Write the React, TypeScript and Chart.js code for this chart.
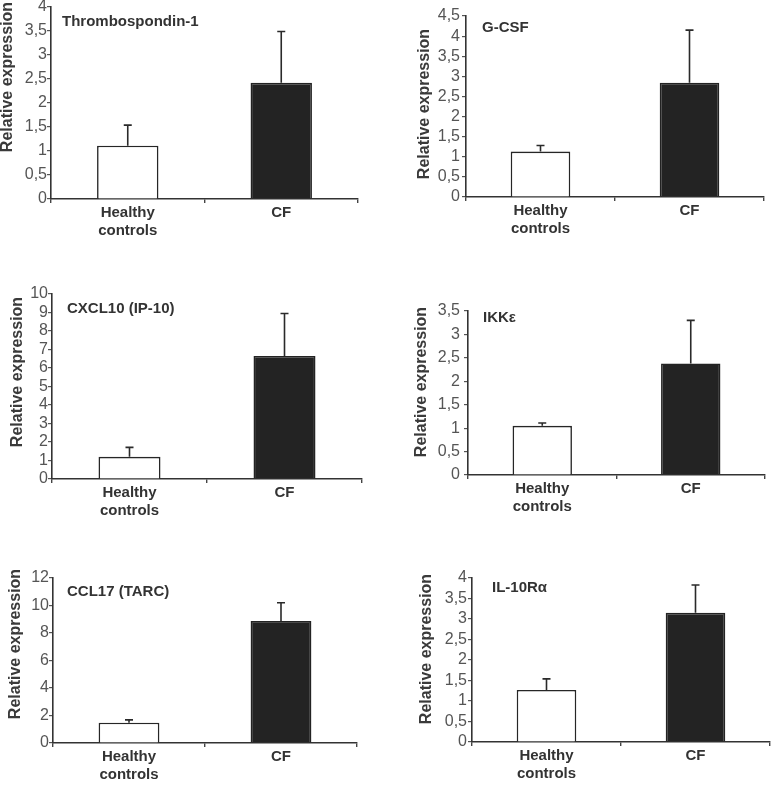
import React, { useEffect, useRef } from "react";
import { Chart, registerables } from "chart.js";

Chart.register(...registerables);

// ---- data ----
const categories = [["Healthy", "controls"], "CF"];
const panelTitles = ["Thrombospondin-1", "G-CSF", "CXCL10 (IP-10)", "IKKε", "CCL17 (TARC)", "IL-10Rα"];
const healthyMeans = [1.11, 1.13, 1.2, 1.05, 1.48, 1.27];
const healthyErrors = [0.43, 0.15, 0.51, 0.06, 0.2, 0.27];
const cfMeans = [2.42, 2.84, 6.65, 2.38, 8.87, 3.15];
const cfErrors = [1.07, 1.31, 2.3, 0.92, 1.33, 0.68];
const axisMax = [4, 4.5, 10, 3.5, 12, 4];
const axisStep = [0.5, 0.5, 1, 0.5, 2, 0.5];
const yAxisTitle = "Relative expression";

// ---- layout (page pixel positions of each plot area) ----
const layouts = [
  { colLeft: 0, plotLeft: 51, plotTop: 7, plotRight: 358, plotBottom: 199, titleDx: 11, titleDy: 15, yTitleX: 8, yTitleY: 77, tickPad: 0 },
  { colLeft: 385, plotLeft: 466, plotTop: 16, plotRight: 764, plotBottom: 197, titleDx: 16, titleDy: 12, yTitleX: 425, yTitleY: 104, tickPad: 2 },
  { colLeft: 0, plotLeft: 52, plotTop: 294, plotRight: 362, plotBottom: 479, titleDx: 15, titleDy: 14.5, yTitleX: 18, yTitleY: 372, tickPad: 0 },
  { colLeft: 385, plotLeft: 468, plotTop: 311, plotRight: 765, plotBottom: 475, titleDx: 15, titleDy: 7, yTitleX: 422, yTitleY: 382, tickPad: 4 },
  { colLeft: 0, plotLeft: 53, plotTop: 578, plotRight: 357, plotBottom: 743, titleDx: 14, titleDy: 14, yTitleX: 16, yTitleY: 644, tickPad: 0 },
  { colLeft: 385, plotLeft: 472, plotTop: 578, plotRight: 770, plotBottom: 742, titleDx: 20, titleDy: 10, yTitleX: 427, yTitleY: 649, tickPad: 1 },
];

const PAD_TOP = 24;
const XAXIS_H = 50;
const PAD_RIGHT = 8;
const FONT = "'Liberation Sans', Arial, Helvetica, sans-serif";

function canvasBox(l: any) {
  const top = l.plotTop - PAD_TOP;
  const left = l.colLeft;
  const width = l.plotRight + PAD_RIGHT - left;
  const height = l.plotBottom + XAXIS_H - top;
  return { left, top, width, height };
}

const errorBarPlugin = {
  id: "errorBars",
  afterDatasetsDraw(chart: any) {
    const ctx = chart.ctx;
    const yScale = chart.scales.y;
    chart.data.datasets.forEach((ds: any, di: number) => {
      const meta = chart.getDatasetMeta(di);
      meta.data.forEach((bar: any, i: number) => {
        const v = ds.data[i];
        const e = ds.errors[i];
        const x = bar.x;
        const yBase = yScale.getPixelForValue(v);
        const yTop = yScale.getPixelForValue(v + e);
        ctx.save();
        ctx.strokeStyle = "#2a2a2a";
        ctx.lineWidth = 1.6;
        ctx.beginPath();
        ctx.moveTo(x, yBase);
        ctx.lineTo(x, yTop);
        ctx.moveTo(x - 4, yTop);
        ctx.lineTo(x + 4, yTop);
        ctx.stroke();
        ctx.restore();
      });
    });
  },
};

const panelTextPlugin = {
  id: "panelText",
  afterDraw(chart: any, _args: any, opts: any) {
    const { ctx, chartArea } = chart;
    ctx.save();
    ctx.fillStyle = "#333";
    ctx.font = `bold 15px ${FONT}`;
    ctx.textAlign = "left";
    ctx.textBaseline = "middle";
    ctx.fillText(opts.title, chartArea.left + opts.titleDx, chartArea.top + opts.titleDy);
    ctx.translate(opts.yTitleX, opts.yTitleY);
    ctx.rotate(-Math.PI / 2);
    ctx.textAlign = "center";
    ctx.fillStyle = "#3a3a3a";
    ctx.font = `bold 16px ${FONT}`;
    ctx.fillText(opts.yTitle, 0, 0);
    ctx.restore();
  },
};

export default function App() {
  const refs = useRef<(HTMLCanvasElement | null)[]>([]);

  useEffect(() => {
    const charts: Chart[] = [];
    layouts.forEach((l, i) => {
      const canvas = refs.current[i];
      if (!canvas) return;
      const box = canvasBox(l);
      const yWidth = l.plotLeft - box.left;
      const chart = new Chart(canvas, {
        type: "bar",
        data: {
          labels: categories as any,
          datasets: [
            {
              data: [healthyMeans[i], cfMeans[i]],
              errors: [healthyErrors[i], cfErrors[i]],
              backgroundColor: ["#ffffff", "#232323"],
              borderColor: ["#262626", "#232323"],
              borderWidth: 1.6,
              categoryPercentage: 1,
              barPercentage: 0.4,
            } as any,
          ],
        },
        options: {
          responsive: false,
          animation: false,
          events: [],
          layout: { padding: { top: PAD_TOP, right: PAD_RIGHT, bottom: 0, left: 0 } },
          plugins: {
            legend: { display: false },
            tooltip: { enabled: false },
            panelText: {
              title: panelTitles[i],
              titleDx: l.titleDx,
              titleDy: l.titleDy,
              yTitle: yAxisTitle,
              yTitleX: l.yTitleX - box.left,
              yTitleY: l.yTitleY - box.top,
            },
          } as any,
          scales: {
            x: {
              type: "category",
              offset: true,
              afterFit: (scale: any) => {
                scale.height = XAXIS_H;
              },
              grid: {
                display: true,
                drawOnChartArea: false,
                drawTicks: true,
                tickLength: 4,
                offset: true,
                color: "#444",
                lineWidth: 1.4,
              },
              border: { display: true, color: "#333", width: 1.6 },
              ticks: {
                color: "#333",
                font: { family: FONT, size: 15, weight: "bold" },
                padding: 1,
                maxRotation: 0,
                minRotation: 0,
                autoSkip: false,
              },
            },
            y: {
              type: "linear",
              min: 0,
              max: axisMax[i],
              afterFit: (scale: any) => {
                scale.width = yWidth;
              },
              grid: {
                display: true,
                drawOnChartArea: false,
                drawTicks: true,
                tickLength: 4,
                color: "#555",
                lineWidth: 1.2,
              },
              border: { display: true, color: "#333", width: 1.6 },
              ticks: {
                stepSize: axisStep[i],
                autoSkip: false,
                color: "#555",
                font: { family: FONT, size: 16, lineHeight: 1 },
                padding: l.tickPad,
                callback: (v: any) => String(v).replace(".", ","),
              },
            },
          },
        } as any,
        plugins: [errorBarPlugin, panelTextPlugin],
      });
      charts.push(chart);
    });
    return () => charts.forEach((c) => c.destroy());
  }, []);

  return (
    <div
      style={{
        position: "absolute",
        left: 0,
        top: 0,
        width: 771,
        height: 787,
        overflow: "hidden",
        background: "#ffffff",
      }}
    >
      {layouts.map((l, i) => {
        const box = canvasBox(l);
        return (
          <canvas
            key={i}
            ref={(el) => {
              refs.current[i] = el;
            }}
            width={box.width}
            height={box.height}
            style={{
              position: "absolute",
              left: box.left,
              top: box.top,
              width: box.width,
              height: box.height,
              display: "block",
            }}
          />
        );
      })}
    </div>
  );
}
